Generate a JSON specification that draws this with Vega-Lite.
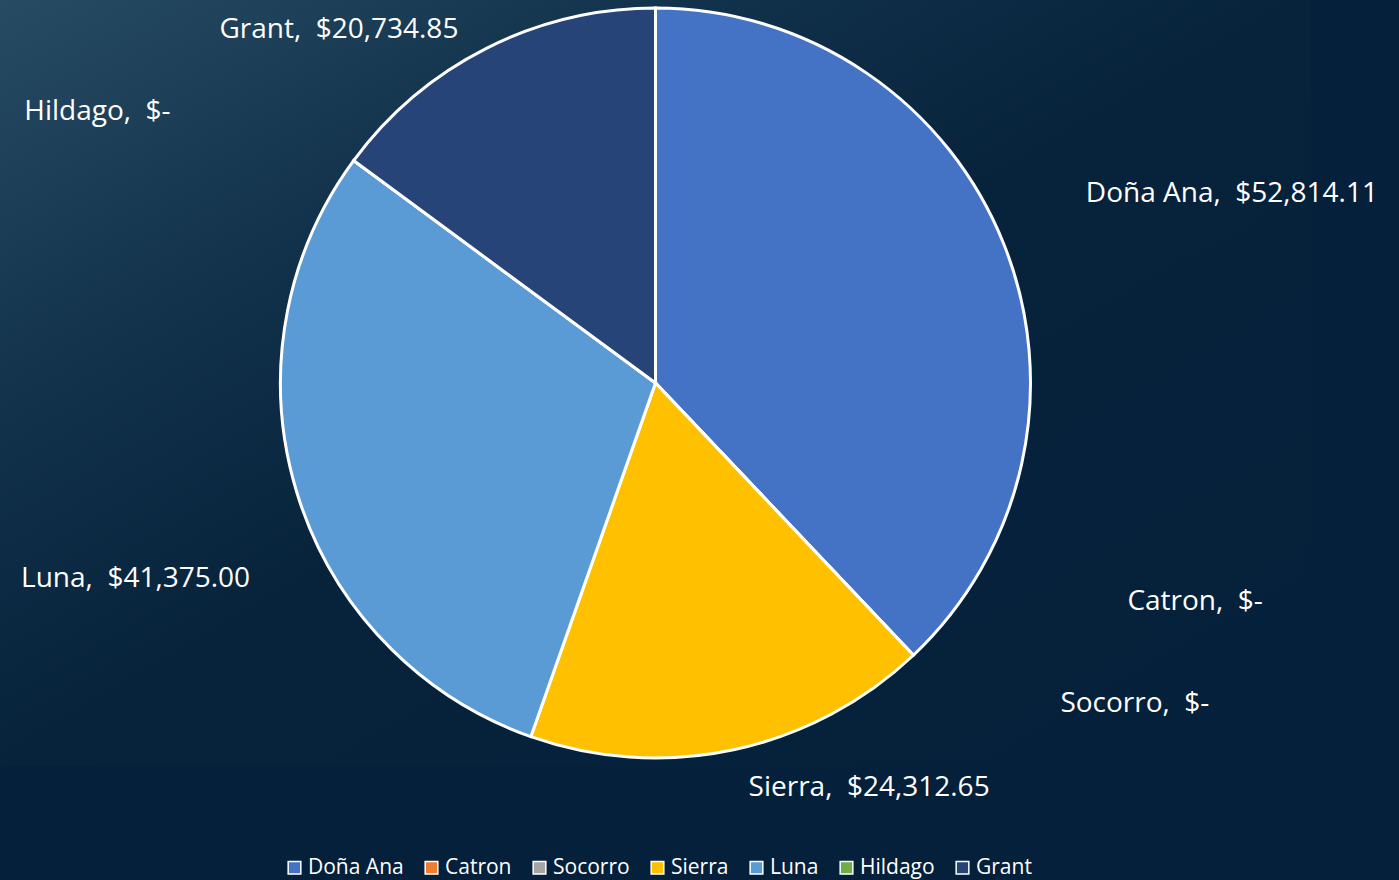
{
  "$schema": "https://vega.github.io/schema/vega-lite/v6.json",
  "width": 1311,
  "height": 766,
  "autosize": {"type": "none"},
  "padding": {"left": 0, "top": 0, "right": 88, "bottom": 114},
  "background": "#04203a",
  "view": {
    "stroke": null,
    "fill": {
      "gradient": "linear",
      "x1": 0, "y1": 0,
      "x2": 1, "y2": 1,
      "stops": [
        {"offset": 0, "color": "#284b64"},
        {"offset": 0.14, "color": "#1c3e57"},
        {"offset": 0.3, "color": "#102f48"},
        {"offset": 0.5, "color": "#07233c"},
        {"offset": 1, "color": "#04203a"}
      ]
    }
  },
  "config": {
    "font": "Open Sans"
  },
  "data": {
    "values": [
      {"county": "Doña Ana", "value": 52814.11},
      {"county": "Catron", "value": 0},
      {"county": "Socorro", "value": 0},
      {"county": "Sierra", "value": 24312.65},
      {"county": "Luna", "value": 41375.00},
      {"county": "Hildago", "value": 0},
      {"county": "Grant", "value": 20734.85}
    ]
  },
  "transform": [
    {"window": [{"op": "row_number", "as": "idx"}]},
    {"calculate": "datum.county + ',\u00a0 ' + (datum.value == 0 ? '$-' : '$' + format(datum.value, ',.2f'))", "as": "label"}
  ],
  "encoding": {
    "theta": {"field": "value", "type": "quantitative", "stack": true},
    "order": {"field": "idx", "type": "quantitative", "sort": "ascending"}
  },
  "layer": [
    {
      "mark": {"type": "arc", "outerRadius": 375, "stroke": "#ffffff", "strokeWidth": 3},
      "encoding": {
        "color": {
          "field": "county",
          "type": "nominal",
          "scale": {
            "domain": ["Doña Ana", "Catron", "Socorro", "Sierra", "Luna", "Hildago", "Grant"],
            "range": ["#4472c4", "#ed7d31", "#a5a5a5", "#ffc000", "#5b9bd5", "#70ad47", "#264478"]
          },
          "legend": {
            "title": null,
            "orient": "none",
            "direction": "horizontal",
            "columns": 7,
            "legendX": 284,
            "legendY": 857,
            "symbolType": "square",
            "symbolSize": 160,
            "symbolStrokeColor": "#ffffff",
            "symbolStrokeWidth": 1.5,
            "symbolOpacity": 1,
            "labelColor": "#ffffff",
            "labelFont": "Open Sans",
            "labelFontSize": 21,
            "labelOffset": 3,
            "columnPadding": 17
          }
        }
      }
    },
    {
      "mark": {
        "type": "text",
        "radius": 375,
        "fontSize": 28,
        "color": "#ffffff",
        "baseline": "middle",
        "align": {"expr": "(datum.county == 'Luna' || datum.county == 'Hildago' || datum.county == 'Grant') ? 'right' : 'left'"},
        "dx": {"expr": "datum.county == 'Doña Ana' ? 82 : datum.county == 'Catron' ? 214 : datum.county == 'Socorro' ? 147 : datum.county == 'Sierra' ? 15 : datum.county == 'Luna' ? -47 : datum.county == 'Hildago' ? -183 : -28"},
        "dy": {"expr": "datum.county == 'Doña Ana' ? -50 : datum.county == 'Catron' ? -53 : datum.county == 'Socorro' ? 49 : datum.county == 'Sierra' ? 38 : datum.county == 'Luna' ? 86 : datum.county == 'Hildago' ? -49 : -18"}
      },
      "encoding": {
        "text": {"field": "label", "type": "nominal"}
      }
    }
  ]
}
